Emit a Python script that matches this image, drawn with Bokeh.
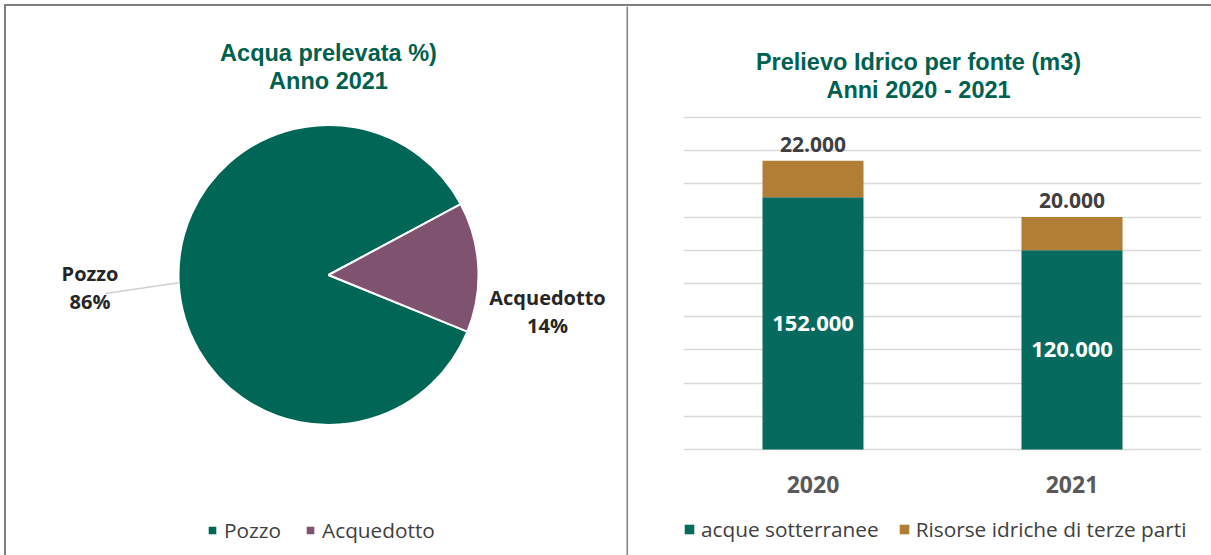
import math
from bokeh.plotting import figure
from bokeh.models import (ColumnDataSource, Range1d, FactorRange, Legend, LegendItem, Label,
                          SingleIntervalTicker)
from bokeh.layouts import row
from bokeh.embed import file_html
from bokeh.resources import INLINE
from bokeh.core.properties import value

# ---------------- data ----------------
pie_title = ["Acqua prelevata %)", "Anno 2021"]
pie_labels = ["Pozzo", "Acquedotto"]
pie_values = [86, 14]

bar_title = ["Prelievo Idrico per fonte (m3)", "Anni 2020 - 2021"]
years = ["2020", "2021"]
acque_sotterranee = [152000, 120000]
terze_parti = [22000, 20000]
series_names = ["acque sotterranee", "Risorse idriche di terze parti"]
y_max, y_step = 200000, 20000

# ---------------- styles / layout ----------------
PIE_COLORS = ["#006655", "#7f5270"]
BAR_COLORS = ["#076a5e", "#b07f35"]
TITLE_COLOR = "#00614f"
FRAME_GRAY = "#7f7f7f"
TITLE_FONT = "Liberation Sans"
BODY_FONT = "Open Sans"

W1, W2, H = 622, 583, 549
PLOT_PX = 332          # height of the bar plotting area in px
BELOW_PX = 106         # px from the bar baseline to the bottom of the canvas


def make_title(x, y, text, units="data"):
    return Label(x=x, y=y, x_units=units, y_units=units, text=text, text_align="center",
                 text_baseline="middle", text_font=TITLE_FONT, text_font_style="bold",
                 text_font_size="23.5px", text_color=TITLE_COLOR)


def make_legend(items, loc, spacing):
    return Legend(items=items, orientation="horizontal", location=loc,
                  glyph_width=12, glyph_height=12, label_standoff=6, spacing=spacing,
                  padding=0, margin=0, border_line_alpha=0, background_fill_alpha=0,
                  label_text_font=BODY_FONT, label_text_font_size="20.8px",
                  label_text_color="#404040")


# ---------------- left: pie ----------------
p1 = figure(width=W1, height=H, x_range=Range1d(0, W1), y_range=Range1d(0, H), title=None,
            min_border=0, x_axis_location=None, y_axis_location=None,
            outline_line_color=None, toolbar_location=None, output_backend="svg")
p1.grid.visible = False

CX, CY, R = 322, 280.5, 150
START = math.radians(28.2)
total = sum(pie_values)
starts, ends = [], []
acc = START
for v in pie_values:
    starts.append(acc)
    acc += 2 * math.pi * v / total
    ends.append(acc)

pie_src = ColumnDataSource(dict(label=pie_labels, value=pie_values, start=starts, end=ends,
                                color=PIE_COLORS))
wedges = p1.wedge(x=CX, y=CY, radius=R, start_angle="start", end_angle="end",
                  fill_color="color", line_color="white", line_width=2, source=pie_src)

# leader line for the Pozzo label
mid = (starts[0] + ends[0]) / 2
ex, ey = CX + R * math.cos(mid), CY + R * math.sin(mid)
p1.line(x=[99, ex], y=[262, ey], line_color="#d0d0d0", line_width=1.5)

# pie data labels (name above, percentage below)
lab_pos = [(83.5, 282, 254), (541, 258, 230)]
name_src = ColumnDataSource(dict(x=[p[0] for p in lab_pos], y=[p[1] for p in lab_pos],
                                 t=pie_labels))
pct_src = ColumnDataSource(dict(x=[p[0] for p in lab_pos], y=[p[2] for p in lab_pos],
                                t=[f"{v}%" for v in pie_values]))
for s in (name_src, pct_src):
    p1.text(x="x", y="y", text="t", source=s, text_align="center", text_baseline="middle",
            text_font=value(BODY_FONT), text_font_style="bold", text_font_size="20px",
            text_color="#262626")

for t, yy in zip(pie_title, [503, 474.5]):
    p1.add_layout(make_title(322, yy, t))

# divider between the two panels
p1.line(x=[W1 - 1, W1 - 1], y=[0, H], line_color=FRAME_GRAY, line_width=2)

p1.add_layout(make_legend([LegendItem(label=l, renderers=[wedges], index=i)
                           for i, l in enumerate(pie_labels)], (200, 11), 23))

# ---------------- right: stacked bars ----------------
px_per_unit = PLOT_PX / y_max
y_lo = -BELOW_PX / px_per_unit
y_hi = (H - BELOW_PX) / px_per_unit

p2 = figure(width=W2, height=H, x_range=FactorRange(*years, range_padding=0),
            y_range=Range1d(y_lo, y_hi), y_axis_location=None, title=None,
            min_border_left=55, min_border_right=10, min_border_top=0, min_border_bottom=0,
            outline_line_color=None, toolbar_location=None, output_backend="svg")

bar_src = ColumnDataSource(dict(year=years, acque=acque_sotterranee, terze=terze_parti,
                                total=[a + b for a, b in zip(acque_sotterranee, terze_parti)],
                                mid=[a / 2 for a in acque_sotterranee],
                                t_acque=[f"{a:,}".replace(",", ".") for a in acque_sotterranee],
                                t_terze=[f"{b:,}".replace(",", ".") for b in terze_parti]))
bars = p2.vbar_stack(["acque", "terze"], x="year", width=0.39, color=BAR_COLORS,
                     line_color=None, source=bar_src)

p2.xgrid.visible = False
p2.ygrid.ticker = SingleIntervalTicker(interval=y_step)
p2.ygrid.bounds = (0, y_max)
p2.ygrid.grid_line_color = "#d9d9d9"
p2.ygrid.grid_line_width = 1.5

p2.text(x="year", y="total", text="t_terze", source=bar_src, text_align="center",
        text_baseline="middle", y_offset=-16.5, text_font=value(BODY_FONT),
        text_font_style="bold", text_font_size="21px", text_color="#404040")
p2.text(x="year", y="mid", text="t_acque", source=bar_src, text_align="center",
        text_baseline="middle", text_font=value(BODY_FONT),
        text_font_style="bold", text_font_size="22px", text_color="white")

ax = p2.xaxis[0]
ax.fixed_location = 0
ax.axis_line_color = None
ax.major_tick_line_color = None
ax.minor_tick_line_color = None
ax.major_tick_out = 0
ax.major_tick_in = 0
ax.major_label_standoff = 26
ax.major_label_text_font = BODY_FONT
ax.major_label_text_font_style = "bold"
ax.major_label_text_font_size = "23px"
ax.major_label_text_color = "#595959"

for t, yy in zip(bar_title, [494, 466]):
    p2.add_layout(make_title(235, yy, t, units="screen"))

p2.add_layout(make_legend([LegendItem(label=n, renderers=[r]) for n, r in zip(series_names, bars)],
                          (0, 12.5), 19))

layout = row(p1, p2, spacing=0,
             styles={"margin-left": "4px", "margin-top": "4px",
                     "border-top": f"2px solid {FRAME_GRAY}",
                     "border-left": f"2px solid {FRAME_GRAY}"})

open("out.html", "w").write(file_html(layout, INLINE))
